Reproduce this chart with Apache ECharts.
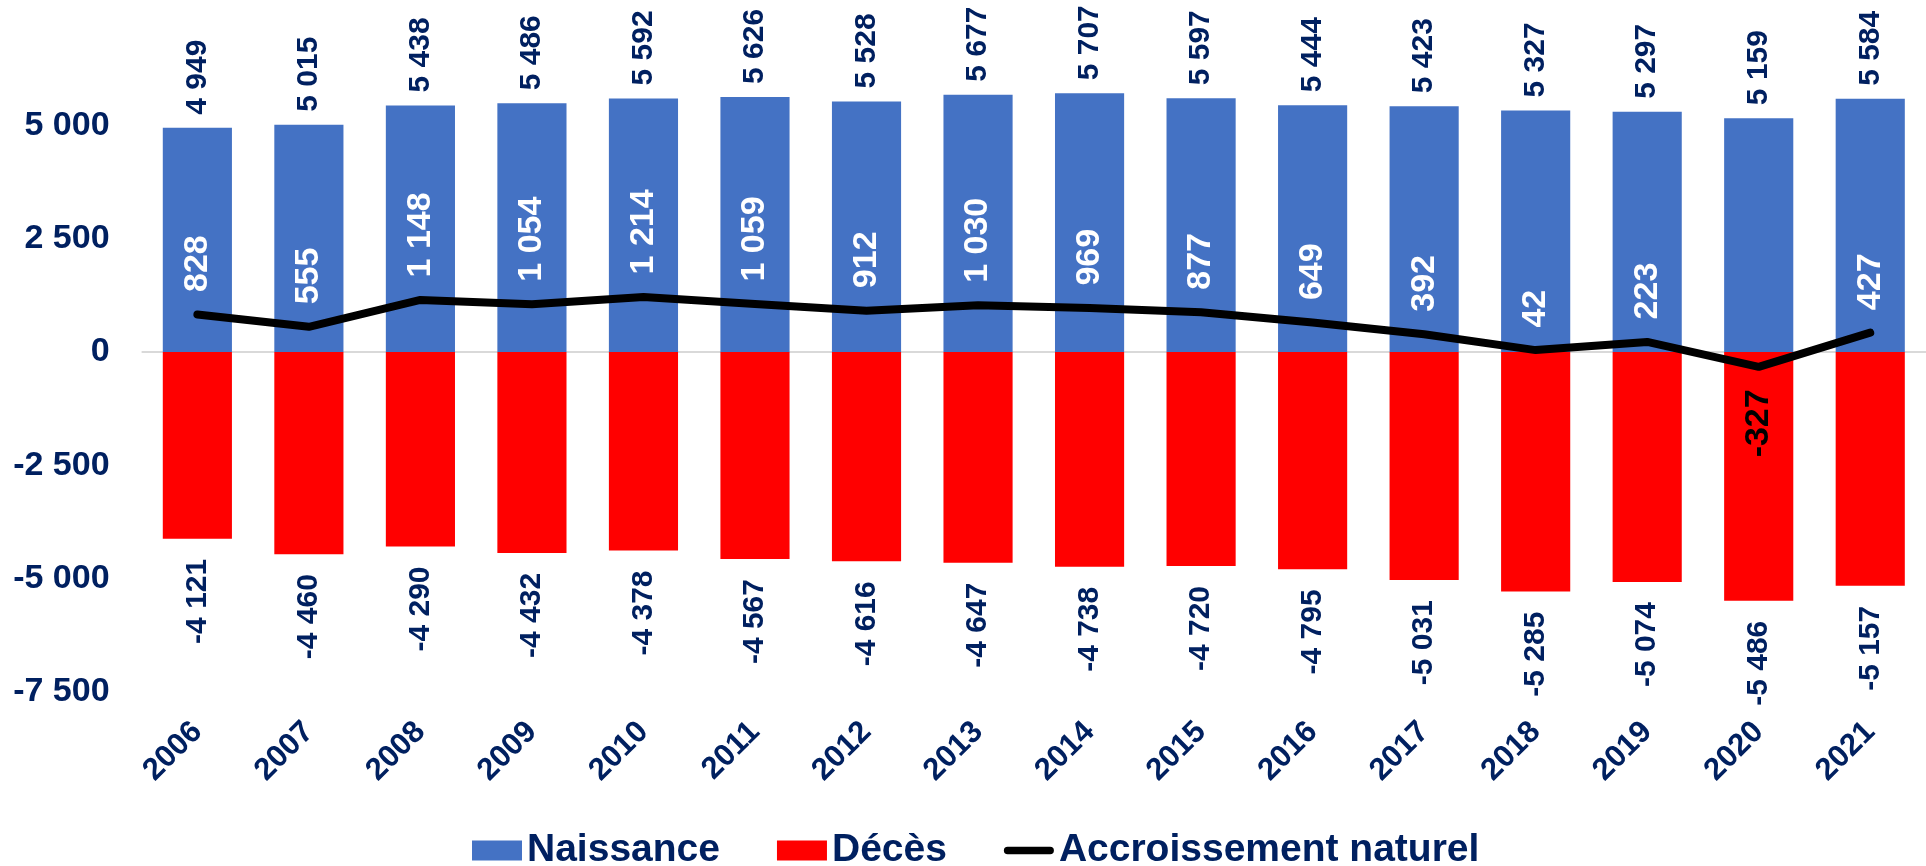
<!DOCTYPE html>
<html lang="fr">
<head>
<meta charset="utf-8">
<title>Naissances, décès et accroissement naturel 2006-2021</title>
<script src="https://cdn.jsdelivr.net/npm/echarts@6/dist/echarts.min.js"></script>
<style>
  html, body { margin: 0; padding: 0; background: #ffffff; }
  #chart { width: 1926px; height: 866px; }
</style>
</head>
<body>
<div id="chart"></div>
<script>
// Années
const years = ['2006', '2007', '2008', '2009', '2010', '2011', '2012', '2013',
               '2014', '2015', '2016', '2017', '2018', '2019', '2020', '2021'];

// Naissances
const naissances = [4949, 5015, 5438, 5486, 5592, 5626, 5528, 5677,
                    5707, 5597, 5444, 5423, 5327, 5297, 5159, 5584];

// Décès (en négatif)
const deces = [-4121, -4460, -4290, -4432, -4378, -4567, -4616, -4647,
               -4738, -4720, -4795, -5031, -5285, -5074, -5486, -5157];

// Accroissement naturel (naissances + décès)
const accroissement = [828, 555, 1148, 1054, 1214, 1059, 912, 1030,
                       969, 877, 649, 392, 42, 223, -327, 427];

// Graduations de l'axe vertical
const yTicks = [-7500, -5000, -2500, 0, 2500, 5000, 7500];
const yMin = yTicks[0];
const yMax = yTicks[yTicks.length - 1];
const yStep = yTicks[1] - yTicks[0];

const NAVY = '#002060';
const FONT = '"Liberation Sans", Arial, sans-serif';

// Séparateur de milliers à la française : "4 949"
function fmt(v) {
  const s = Math.abs(v).toString().replace(/\B(?=(\d{3})+(?!\d))/g, ' ');
  return (v < 0 ? '-' : '') + s;
}

const chart = echarts.init(document.getElementById('chart'), null, { renderer: 'canvas' });

// Étiquettes de la courbe : blanches au-dessus du point, noires en dessous si négatif
const lineData = accroissement.map(v => ({
  value: v,
  label: v >= 0
    ? { position: 'top', align: 'left', color: '#ffffff' }
    : { position: 'bottom', align: 'right', color: '#000000' }
}));

// Icône de légende : trait épais aux extrémités arrondies
const lineIcon = 'path://M9,0 H111 A9,9 0 0 1 111,18 H9 A9,9 0 0 1 9,0 Z';

chart.setOption({
  animation: false,
  backgroundColor: '#ffffff',
  textStyle: { fontFamily: FONT },
  grid: { left: 141.6, right: -21.4, top: 12, bottom: 174, containLabel: false },
  legend: {
    left: 467,
    top: 826,
    itemWidth: 50,
    itemHeight: 20,
    itemGap: 57,
    textStyle: { fontSize: 39, fontWeight: 'bold', color: NAVY, fontFamily: FONT },
    data: [
      { name: 'Naissance', icon: 'rect' },
      { name: 'Décès', icon: 'rect' },
      { name: 'Accroissement naturel', icon: lineIcon, itemStyle: { color: '#000000' } }
    ]
  },
  xAxis: {
    type: 'category',
    data: years,
    axisLine: { show: false },
    axisTick: { show: false },
    axisLabel: {
      rotate: 45,
      margin: 35,
      fontSize: 31,
      fontWeight: 'bold',
      color: NAVY,
      fontFamily: FONT
    }
  },
  yAxis: {
    type: 'value',
    min: yMin,
    max: yMax,
    interval: yStep,
    axisLine: { show: false },
    axisTick: { show: false },
    splitLine: { show: false },
    axisLabel: {
      margin: 32,
      fontSize: 34,
      fontWeight: 'bold',
      color: NAVY,
      fontFamily: FONT,
      formatter: v => (v === yMax ? '' : fmt(v))
    }
  },
  series: [
    {
      name: 'Naissance',
      type: 'bar',
      stack: 'mouvement',
      barWidth: '62%',
      data: naissances,
      itemStyle: { color: '#4472C4' },
      label: {
        show: true,
        position: 'top',
        rotate: 90,
        align: 'left',
        verticalAlign: 'middle',
        distance: 13,
        fontSize: 30,
        fontWeight: 'bold',
        color: NAVY,
        fontFamily: FONT,
        formatter: p => fmt(p.value)
      },
      markLine: {
        silent: true,
        symbol: 'none',
        label: { show: false },
        lineStyle: { color: '#d9d9d9', width: 2, type: 'solid' },
        data: [{ yAxis: 0 }],
        z: 1
      }
    },
    {
      name: 'Décès',
      type: 'bar',
      stack: 'mouvement',
      barWidth: '62%',
      data: deces,
      itemStyle: { color: '#FF0000' },
      label: {
        show: true,
        position: 'bottom',
        rotate: 90,
        align: 'right',
        verticalAlign: 'middle',
        distance: 20,
        fontSize: 30,
        fontWeight: 'bold',
        color: NAVY,
        fontFamily: FONT,
        formatter: p => fmt(p.value)
      }
    },
    {
      name: 'Accroissement naturel',
      type: 'line',
      data: lineData,
      symbol: 'circle',
      symbolSize: 1,
      showSymbol: true,
      z: 5,
      lineStyle: { color: '#000000', width: 8, cap: 'round', join: 'round' },
      itemStyle: { color: '#000000' },
      label: {
        show: true,
        rotate: 90,
        verticalAlign: 'middle',
        distance: 22,
        fontSize: 34,
        fontWeight: 'bold',
        fontFamily: FONT,
        formatter: p => fmt(p.value)
      }
    }
  ]
});
</script>
</body>
</html>
